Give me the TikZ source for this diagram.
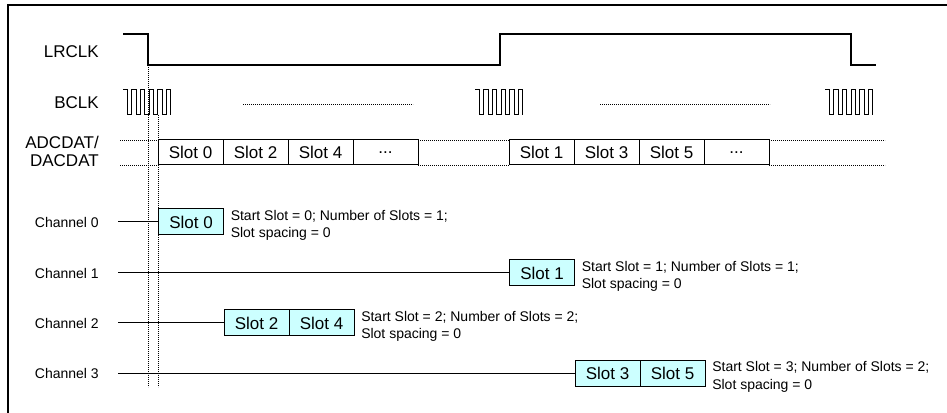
\documentclass[tikz,border=0pt]{standalone}
\usepackage{fontspec}
\setmainfont{Liberation Sans}
\usetikzlibrary{positioning}
\definecolor{slotcyan}{HTML}{CCFFFF}

\begin{document}
\begin{tikzpicture}[
    x=0.75pt, y=-0.75pt,
    node distance=0pt,
    siglabel/.style={anchor=east, align=right, inner sep=0pt, font=\fontsize{12.75}{13.7}\selectfont},
    chlabel/.style={anchor=east, inner sep=0pt, font=\fontsize{10.5}{12.75}\selectfont},
    slotbox/.style={rectangle, draw=black, line width=0.75pt, outer sep=0pt, minimum width=48.75pt, minimum height=18.75pt, inner sep=0pt, font=\fontsize{12.75}{14}\selectfont},
    chslot/.style={slotbox, fill=slotcyan, minimum height=19.5pt},
    note/.style={anchor=north west, align=left, inner sep=0pt, font=\fontsize{10.5}{13}\selectfont},
    wave/.style={line width=0.9pt},
    link/.style={line width=0.75pt},
    dots/.style={line width=0.7pt, dash pattern=on 0.7pt off 0.8pt},
]

\clip (0,0) rectangle (947,413);
\draw [line width=1pt] (8,5) rectangle (960,425);

% signal names
\node [siglabel] (lrclk) at (99,52) {LRCLK};
\node [siglabel] (bclk) at (99,102.5) {BCLK};
\node [siglabel] (data) at (99,151.5) {ADCDAT/\\DACDAT};

% LRCLK
\coordinate (lrfall) at (148,65);
\draw [wave] (123,34) -- (148,34) -- (lrfall) -- (500,65) -- (500,34) -- (851,34) -- (851,65) -- (876,65);

% BCLK bursts
\foreach \bx in {123,475,825}
  \draw [link] (\bx,90) foreach \i in {1,...,5} {-- ++(4.36,0) -- ++(0,25) -- ++(4.36,0) -- ++(0,-25)} -- ++(4.36,0) -- ++(0,25);
\draw [dots] (243,104) -- (413,104);
\draw [dots] (600,104) -- (770,104);

% data slots
\node [slotbox] (d0) at (190.5,152.5) {Slot 0};
\node [slotbox, right=of d0] (d2) {Slot 2};
\node [slotbox, right=of d2] (d4) {Slot 4};
\node [slotbox, right=of d4] (dA) {...};
\node [slotbox] (d1) at (541.5,152.5) {Slot 1};
\node [slotbox, right=of d1] (d3) {Slot 3};
\node [slotbox, right=of d3] (d5) {Slot 5};
\node [slotbox, right=of d5] (dB) {...};

\coordinate (rowtop) at (120,140);
\coordinate (rowbot) at (120,165);
\coordinate (endtop) at (885,140);
\coordinate (endbot) at (885,165);
\draw [dots] (rowtop) -- (d0.north west);
\draw [dots] (rowbot) -- (d0.south west);
\draw [dots] (dA.north east) -- (d1.north west);
\draw [dots] (dA.south east) -- (d1.south west);
\draw [dots] (dB.north east) -- (endtop);
\draw [dots] (dB.south east) -- (endbot);

% frame markers
\coordinate (bclkedge) at (158,115);
\coordinate (dotend) at (0,387);
\draw [dots] (lrfall) -- (lrfall |- dotend);
\draw [dots] (bclkedge) -- (bclkedge |- dotend);

% channels
\node [chlabel] (ch0) at (99,222) {Channel 0};
\node [chlabel] (ch1) at (99,273) {Channel 1};
\node [chlabel] (ch2) at (99,323) {Channel 2};
\node [chlabel] (ch3) at (99,373.5) {Channel 3};

\node [chslot] (c0) at (191,222) {Slot 0};
\node [chslot] (c1) at (542,273) {Slot 1};
\node [chslot] (c2a) at (256.5,323) {Slot 2};
\node [chslot, right=of c2a] (c2b) {Slot 4};
\node [chslot] (c3a) at (607.5,373.5) {Slot 3};
\node [chslot, right=of c3a] (c3b) {Slot 5};

\draw [link] ([xshift=14.25pt]ch0.east) -- (c0.west);
\draw [link] ([xshift=14.25pt]ch1.east) -- (c1.west);
\draw [link] ([xshift=14.25pt]ch2.east) -- (c2a.west);
\draw [link] ([xshift=14.25pt]ch3.east) -- (c3a.west);

\node [note] at ([xshift=5.25pt, yshift=-0.75pt]c0.north east) {Start Slot = 0; Number of Slots = 1;\\Slot spacing = 0};
\node [note] at ([xshift=5.25pt, yshift=-0.75pt]c1.north east) {Start Slot = 1; Number of Slots = 1;\\Slot spacing = 0};
\node [note] at ([xshift=5.25pt, yshift=-0.75pt]c2b.north east) {Start Slot = 2; Number of Slots = 2;\\Slot spacing = 0};
\node [note] at ([xshift=5.25pt, yshift=-0.75pt]c3b.north east) {Start Slot = 3; Number of Slots = 2;\\Slot spacing = 0};

\end{tikzpicture}
\end{document}
